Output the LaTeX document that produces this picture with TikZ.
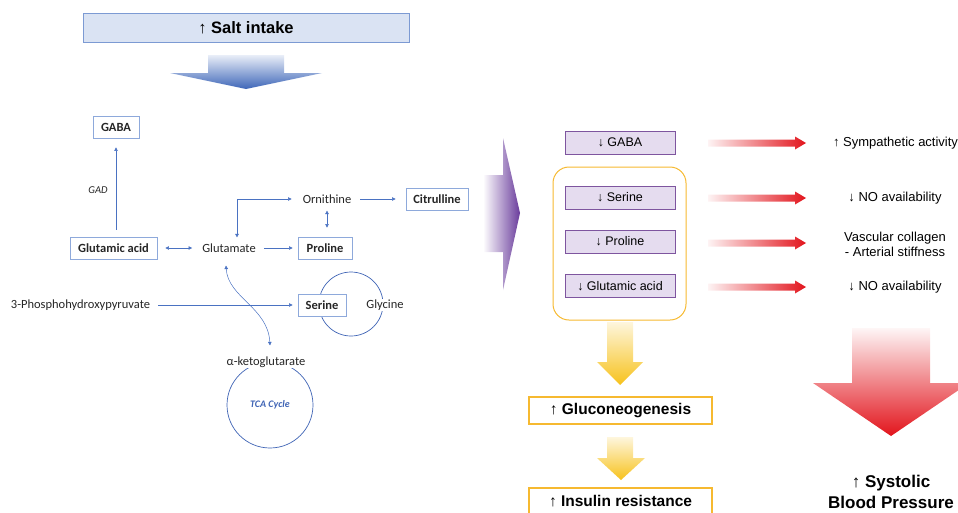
\documentclass[tikz,border=0pt]{standalone}
\usepackage{fontspec}
\setmainfont{Carlito}
\newfontfamily\arialfont{Liberation Sans}
\usetikzlibrary{arrows.meta}

\definecolor{pathblue}{HTML}{4A72C2}
\definecolor{boxblue}{HTML}{8EA9DB}
\definecolor{saltfill}{HTML}{DAE3F3}
\definecolor{saltline}{HTML}{7C9AD3}
\definecolor{arrowblue}{HTML}{3E66B8}
\definecolor{tcablue}{HTML}{3F64B5}
\definecolor{darkviolet}{HTML}{6A3C9C}
\definecolor{boxviolet}{HTML}{E5DCEF}
\definecolor{lineviolet}{HTML}{7E559F}
\definecolor{ringorange}{HTML}{F6B930}
\definecolor{arrowyellow}{HTML}{F7C21C}
\definecolor{arrowred}{HTML}{E2141C}

\tikzset{
  metab/.style={font=\fontsize{12.5}{14}\selectfont, text=black!85, fill=white, inner sep=1pt},
  metabox/.style={metab, draw=boxblue, line width=0.9pt, font=\bfseries\fontsize{12.5}{14}\selectfont, minimum height=22pt, inner xsep=0pt},
  link/.style={draw=pathblue, line width=0.5pt, -{Triangle[length=3.5pt,width=3.5pt]}},
  twolink/.style={draw=pathblue, line width=0.5pt, {Triangle[length=3.5pt,width=3.5pt]}-{Triangle[length=3.5pt,width=3.5pt]}},
  drop/.style={draw=lineviolet, line width=0.9pt, fill=boxviolet, minimum width=110pt, minimum height=23pt, inner sep=0pt, font=\arialfont\fontsize{12.5}{14}\selectfont},
  effect/.style={font=\arialfont\fontsize{13}{15.5}\selectfont, align=center, inner sep=0pt},
  outcome/.style={draw=ringorange, line width=1.3pt, fill=white, minimum width=183pt, minimum height=27pt, inner sep=0pt, font=\arialfont\bfseries\fontsize{15.5}{18}\selectfont},
  redarrow/.style={left color=arrowred!5, right color=arrowred},
  yellowarrow/.style={top color=arrowyellow!15, bottom color=arrowyellow}
}

\begin{document}
\begin{tikzpicture}[x=1pt,y=-1pt]

\useasboundingbox (0,0) rectangle (958,512);

% SALT INTAKE %%%%%%%%%%%%%%%%%%%%%%%%%%%%%%%%%%%%%%%%%%%%%%%%%%%%%%%%%%%%%

\node[draw=saltline, line width=0.9pt, fill=saltfill, minimum width=326pt, minimum height=29pt, font=\arialfont\bfseries\fontsize{16.5}{18}\selectfont] (salt) at (246,27.5) {↑ Salt intake};
\shade[top color=saltfill!60, bottom color=arrowblue] (208,55) -- (284,55) -- (284,73) -- (322,73) -- (246,89) -- (170,73) -- (208,73) -- cycle;

% PATHWAY %%%%%%%%%%%%%%%%%%%%%%%%%%%%%%%%%%%%%%%%%%%%%%%%%%%%%%%%%%%%%%%%%

\node[draw=tcablue, line width=0.7pt, circle, minimum size=64pt] (ring) at (351,304) {};
\node[draw=tcablue, line width=0.7pt, circle, minimum size=86pt, text=tcablue, font=\itshape\bfseries\fontsize{10}{12}\selectfont] (tca) at (270,405) {TCA Cycle};

\node[metabox, minimum width=46pt] (gaba) at (116,127) {GABA};
\node[metab, font=\itshape\fontsize{10.5}{12}\selectfont] (gad) at (98,190) {GAD};
\node[metabox, minimum width=87pt] (glutacid) at (113.5,248) {Glutamic acid};
\node[metab] (glutamate) at (229,248) {Glutamate};
\node[metabox, minimum width=54pt] (proline) at (325,248) {Proline};
\node[metab] (ornithine) at (327,199) {Ornithine};
\node[metabox, minimum width=62pt] (citrulline) at (437,199) {Citrulline};
\node[metab] (phospho) at (80.5,305) {3-Phosphohydroxypyruvate};
\node[metabox, minimum width=48pt] (serine) at (322,305) {Serine};
\node[metab] (glycine) at (385,305) {Glycine};
\node[metab] (akg) at (266,362) {α-ketoglutarate};

\draw[link, shorten <=7pt, shorten >=9pt] (gaba |- glutacid.north) -- (gaba.south);
\draw[twolink, shorten <=8pt, shorten >=9pt] (glutacid.east) -- (glutamate.west);
\draw[link, shorten <=7pt, shorten >=5pt] (glutamate.east) -- (proline.west);
\draw[twolink, shorten >=10pt] ([xshift=8pt,yshift=5pt]glutamate.north) |- (ornithine.west);
\draw[link, shorten <=8pt, shorten >=10pt] (ornithine.east) -- (citrulline.west);
\draw[twolink, shorten <=6pt, shorten >=9pt] (ornithine.south) -- (ornithine |- proline.north);
\draw[link, shorten <=7pt, shorten >=5pt] (phospho.east) -- (serine.west);
\draw[twolink] ([xshift=-3pt,yshift=-12pt]glutamate.south) .. controls +(2,32) and +(-2,-38) .. ([xshift=4pt,yshift=10pt]akg.north);

% BIG PURPLE ARROW %%%%%%%%%%%%%%%%%%%%%%%%%%%%%%%%%%%%%%%%%%%%%%%%%%%%%%%%

\shade[left color=white, right color=darkviolet] (483,175) -- (503,175) -- (503,138) -- (520,213) -- (503,290) -- (503,252) -- (483,252) -- cycle;

% DECREASED METABOLITES %%%%%%%%%%%%%%%%%%%%%%%%%%%%%%%%%%%%%%%%%%%%%%%%%%%

\node[draw=ringorange, line width=1pt, rounded corners=16pt, minimum width=133pt, minimum height=153pt] (group) at (619.5,243.5) {};

\node[drop] (dgaba) at (620,142.5) {↓ GABA};
\node[drop] (dserine) at (620,197.5) {↓ Serine};
\node[drop] (dproline) at (620,241.5) {↓ Proline};
\node[drop] (dglutacid) at (620,286) {↓ Glutamic acid};

% EFFECTS %%%%%%%%%%%%%%%%%%%%%%%%%%%%%%%%%%%%%%%%%%%%%%%%%%%%%%%%%%%%%%%%%

\shade[redarrow] (708,143) ++(0,-3.5) -- ++(87,0) -- ++(0,-3) -- ++(11,6.5) -- ++(-11,6.5) -- ++(0,-3) -- ++(-87,0) -- cycle;
\shade[redarrow] (708,198) ++(0,-3.5) -- ++(87,0) -- ++(0,-3) -- ++(11,6.5) -- ++(-11,6.5) -- ++(0,-3) -- ++(-87,0) -- cycle;
\shade[redarrow] (708,243) ++(0,-3.5) -- ++(87,0) -- ++(0,-3) -- ++(11,6.5) -- ++(-11,6.5) -- ++(0,-3) -- ++(-87,0) -- cycle;
\shade[redarrow] (708,287) ++(0,-3.5) -- ++(87,0) -- ++(0,-3) -- ++(11,6.5) -- ++(-11,6.5) -- ++(0,-3) -- ++(-87,0) -- cycle;

\node[effect] (symp) at (895.5,143) {↑ Sympathetic activity};
\node[effect] (no1) at (895,198) {↓ NO availability};
\node[effect] (collagen) at (895,244.5) {Vascular collagen\\- Arterial stiffness};
\node[effect] (no2) at (895,287) {↓ NO availability};

% GLUCOSE BRANCH %%%%%%%%%%%%%%%%%%%%%%%%%%%%%%%%%%%%%%%%%%%%%%%%%%%%%%%%%%

\shade[yellowarrow] (607,322) -- (633,322) -- (633,362) -- (643,362) -- (620,385) -- (597,362) -- (607,362) -- cycle;
\node[outcome] (gluco) at (620.5,410.5) {↑ Gluconeogenesis};
\shade[yellowarrow] (607,437) -- (633,437) -- (633,458) -- (645,458) -- (621,480) -- (597,458) -- (607,458) -- cycle;
\node[outcome] (insulin) at (620.5,501.5) {↑ Insulin resistance};

% BLOOD PRESSURE %%%%%%%%%%%%%%%%%%%%%%%%%%%%%%%%%%%%%%%%%%%%%%%%%%%%%%%%%%

\shade[top color=arrowred!4, bottom color=arrowred] (852,328) -- (930,328) -- (930,383) -- (969,383) -- (891,436) -- (813,383) -- (852,383) -- cycle;
\node[font=\arialfont\bfseries\fontsize{17}{21}\selectfont, align=center, inner sep=0pt] (sbp) at (891,492) {↑ Systolic\\Blood Pressure};

\end{tikzpicture}
\end{document}
